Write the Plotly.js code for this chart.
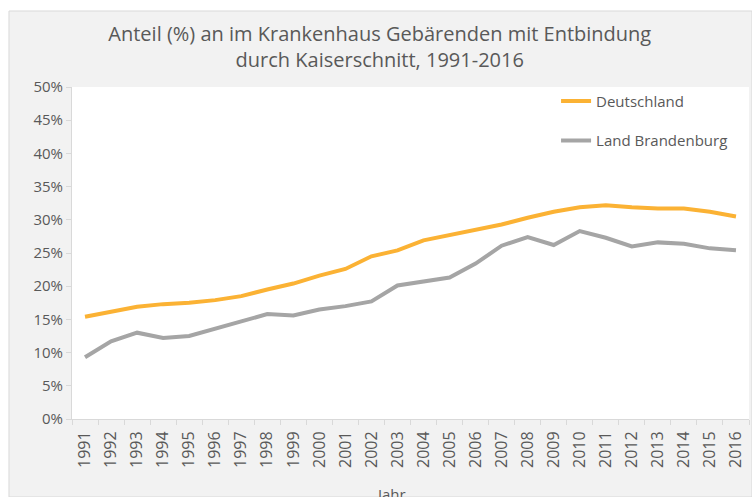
<!DOCTYPE html>
<html>
<head>
<meta charset="utf-8">
<script src="https://cdn.plot.ly/plotly-3.0.1.min.js"></script>
<style>html,body{margin:0;padding:0;background:#fff;}#chart{width:752px;height:497px;}</style>
</head>
<body>
<div id="chart"></div>
<script>
const years = ["1991","1992","1993","1994","1995","1996","1997","1998","1999","2000","2001","2002","2003","2004","2005","2006","2007","2008","2009","2010","2011","2012","2013","2014","2015","2016"];
const deutschland = [15.4,16.1,16.9,17.3,17.5,17.9,18.5,19.5,20.4,21.6,22.6,24.5,25.4,26.9,27.7,28.6,29.3,30.3,31.2,31.9,32.2,31.9,31.7,31.7,31.2,30.5];
const brandenburg = [9.3,11.7,13.0,12.2,12.5,13.6,14.6,15.8,15.6,16.5,17.0,17.7,20.1,20.7,21.3,23.4,26.1,27.4,26.2,28.3,27.3,26.0,26.6,26.4,25.7,25.4];
const yTicks = [0,5,10,15,20,25,30,35,40,45,50];
const yTickText = yTicks.map(v => v + "%");

const FONT = "'Open Sans', Lato, sans-serif";
const TXT = "#595959";

const traces = [
  {x: years, y: deutschland, name: "Deutschland", type: "scatter", mode: "lines",
   line: {color: "#FBB234", width: 4}, legendgroup: "a"},
  {x: years, y: brandenburg, name: "Land Brandenburg", type: "scatter", mode: "lines",
   line: {color: "#A5A5A5", width: 4}, legendgroup: "b"}
];

const layout = {
  width: 752, height: 497,
  margin: {l: 72, r: 3, t: 87, b: 78},
  paper_bgcolor: "#ffffff",
  plot_bgcolor: "rgba(0,0,0,0)",
  font: {family: FONT, color: TXT},
  title: {
    text: "Anteil (%) an im Krankenhaus Gebärenden mit Entbindung<br>durch Kaiserschnitt, 1991-2016",
    font: {size: 20, color: TXT, family: FONT},
    x: 0.505, xref: "container", xanchor: "center",
    y: 0.918, yref: "container", yanchor: "middle"
  },
  showlegend: true,
  legend: {
    x: 0.715, y: 1.007, xanchor: "left", yanchor: "top",
    bgcolor: "rgba(0,0,0,0)", font: {size: 15, color: TXT, family: FONT},
    traceorder: "grouped", tracegroupgap: 17
  },
  xaxis: {
    type: "category",
    range: [-0.5, 25.5],
    tickson: "boundaries",
    ticks: "outside", ticklen: 5, tickcolor: "#d9d9d9",
    showline: true, linecolor: "#d9d9d9", linewidth: 1,
    showgrid: false, zeroline: false,
    tickangle: -90,
    ticklabelstandoff: 5,
    tickfont: {size: 16, color: TXT, family: FONT}
  },
  yaxis: {
    range: [0, 50],
    tickvals: yTicks, ticktext: yTickText,
    ticks: "outside", ticklen: 5, tickcolor: "#d9d9d9",
    showline: true, linecolor: "#d9d9d9", linewidth: 1,
    showgrid: false, zeroline: false,
    tickfont: {size: 15, color: TXT, family: FONT}
  },
  annotations: [
    {text: "Jahr", xref: "paper", yref: "paper", x: 0.471, y: -0.19,
     xanchor: "center", yanchor: "top", showarrow: false,
     font: {size: 15, color: TXT, family: FONT}}
  ],
  shapes: [
    {type: "rect", xref: "paper", yref: "paper", layer: "below",
     x0: -0.0931, x1: 1.0044, y0: -0.2349, y1: 1.2289,
     fillcolor: "#f2f2f2", line: {color: "#d9d9d9", width: 1}},
    {type: "rect", xref: "paper", yref: "paper", layer: "below",
     x0: 0, x1: 1, y0: 0, y1: 1,
     fillcolor: "#ffffff", line: {width: 0}}
  ]
};

Plotly.newPlot("chart", traces, layout, {displayModeBar: false, staticPlot: true});
</script>
</body>
</html>
